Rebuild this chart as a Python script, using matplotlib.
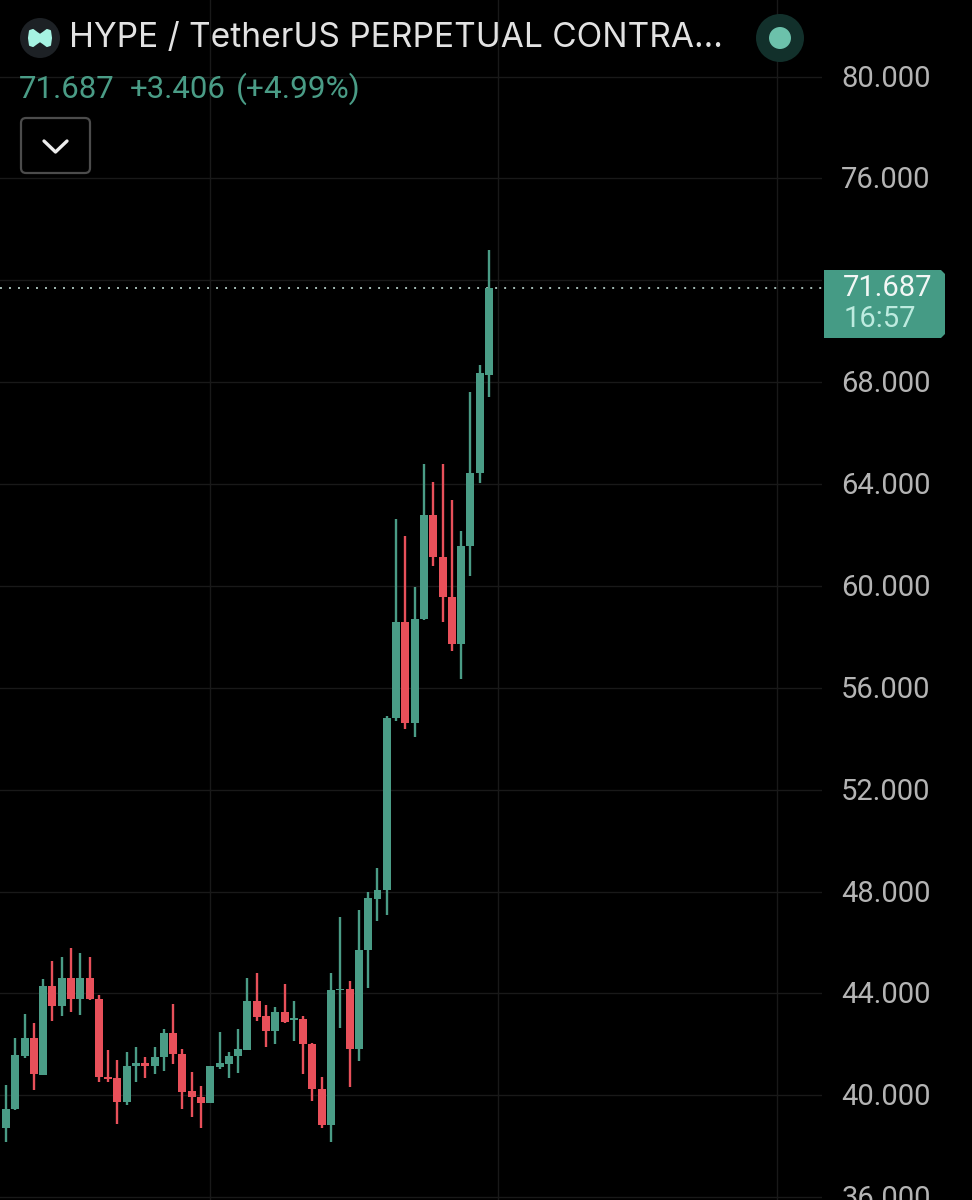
import numpy as np
import matplotlib
matplotlib.use('Agg')
import matplotlib.pyplot as plt
from matplotlib.patches import Circle, FancyBboxPatch, Polygon
from matplotlib.transforms import ScaledTranslation

plt.rcParams['font.family'] = ['Inter', 'DejaVu Sans']
NUM_FONT = ['Roboto', 'DejaVu Sans']

opens = [38.73, 39.45, 41.56, 42.24, 40.80, 44.29, 43.51, 44.61, 43.80, 44.61,
         43.78, 40.73, 40.67, 39.73, 41.15, 41.28, 41.15, 41.49, 42.45, 41.64,
         40.16, 39.92, 39.69, 41.11, 41.24, 41.53, 41.79, 43.69, 43.11, 42.53,
         43.26, 42.96, 43.00, 42.02, 40.25, 38.82, 44.12, 44.18, 41.80, 45.70,
         47.72, 48.05, 54.80, 58.59, 54.63, 58.70, 62.80, 61.15, 59.58, 57.73,
         61.55, 64.44, 68.281]
highs = [40.41, 42.24, 43.19, 42.83, 44.58, 45.27, 45.44, 45.77, 45.57, 45.42,
         43.94, 41.78, 41.39, 41.71, 41.88, 41.49, 41.88, 42.59, 43.59, 41.83,
         40.90, 40.37, 41.17, 42.47, 41.71, 42.62, 44.61, 44.82, 43.55, 43.48,
         44.36, 43.69, 43.13, 42.07, 40.71, 44.79, 47.01, 44.49, 47.27, 47.97,
         48.91, 54.89, 62.63, 61.95, 59.95, 64.78, 64.09, 64.78, 63.36, 62.16,
         67.61, 68.67, 73.19]
lows = [38.15, 39.42, 41.48, 40.21, 40.78, 42.93, 43.13, 43.28, 43.15, 43.74,
        40.54, 40.54, 38.87, 39.62, 40.52, 40.67, 40.84, 40.96, 41.23, 39.45,
        39.16, 38.73, 39.68, 41.02, 40.67, 40.89, 41.78, 42.92, 41.88, 42.03,
        42.83, 42.13, 40.84, 39.79, 38.70, 38.18, 42.64, 40.34, 41.36, 44.20,
        46.85, 47.08, 54.71, 54.37, 54.05, 58.67, 60.78, 58.59, 57.43, 56.33,
        60.39, 64.04, 67.41]
closes = [39.46, 41.58, 42.24, 40.82, 44.29, 43.51, 44.61, 43.80, 44.61, 43.77,
          40.71, 40.64, 39.75, 41.15, 41.28, 41.15, 41.49, 42.45, 41.62, 40.14,
          39.92, 39.69, 41.15, 41.27, 41.54, 41.82, 43.69, 43.09, 42.53, 43.26,
          42.89, 43.02, 42.00, 40.24, 38.82, 44.12, 44.18, 41.80, 45.70, 47.73,
          48.06, 54.82, 58.59, 54.63, 58.71, 62.80, 61.15, 59.58, 57.73, 61.55,
          64.44, 68.36, 71.687]

price_ticks = [36, 40, 44, 48, 52, 56, 60, 64, 68, 72, 76, 80]
price_labels = ['36.000', '40.000', '44.000', '48.000', '52.000', '56.000',
                '60.000', '64.000', '68.000', '', '76.000', '80.000']
month_lines = [22, 53, 83]

last_price = '71.687'
countdown = '16:57'
title = 'HYPE / TetherUS PERPETUAL CONTRA...'
change_abs = '+3.406'
change_pct = '(+4.99%)'

GREEN = '#4a9c86'
RED = '#e8505a'
GRID = '#191919'

W, H = 972, 1200
fig = plt.figure(figsize=(W / 100, H / 100), dpi=100, facecolor='black')

# price pane stops at 822px, the axis labels live right of it
ax = fig.add_axes([0, 0, 822 / W, 1])
ax.set_facecolor('black')
ax.set_xlim(-0.646, 87.86)
ax.set_ylim(35.89, 83.004)
for s in ax.spines.values():
    s.set_visible(False)

ax.set_xticks(month_lines)
ax.set_xticklabels([])
ax.set_yticks(price_ticks)
ax.set_yticklabels(price_labels, family=NUM_FONT)
ax.yaxis.tick_right()
ax.tick_params(axis='both', length=0)
ax.tick_params(axis='y', pad=13.8, labelsize=21, labelcolor='#b4b4b4')
ax.grid(True, color=GRID, lw=1.0)
ax.set_axisbelow(True)

# nudge the price labels up a pixel so they sit on their grid lines
nudge = ScaledTranslation(0, 1 / 100, fig.dpi_scale_trans)
for lab in ax.get_yticklabels():
    lab.set_transform(lab.get_transform() + nudge)

idx = np.arange(len(opens))
op = np.array(opens)
cl = np.array(closes)
colors = [GREEN if c >= o else RED for o, c in zip(op, cl)]

ax.vlines(idx, lows, highs, colors=colors, lw=1.7, zorder=3)
ax.bar(idx, np.abs(cl - op), bottom=np.minimum(op, cl), width=0.86,
       color=colors, linewidth=0, zorder=4)

# last price dotted line
ax.axhline(closes[-1], color='#a5bdb6', lw=1.4, ls=(0, (1, 3.63)), zorder=2)

# overlay in pixel coordinates for the header and the price badge
ui = fig.add_axes([0, 0, 1, 1])
ui.set_xlim(0, W)
ui.set_ylim(H, 0)
ui.axis('off')
ui.patch.set_alpha(0)

ui.add_patch(Circle((40, 38), 20, color='#1d2125', lw=0))
ui.add_patch(Polygon([(30, 31), (33, 30), (37, 33), (40, 35), (43, 33), (47, 30), (50, 31),
                      (51, 38), (50, 45), (47, 46), (43, 43), (40, 41), (37, 43),
                      (33, 46), (30, 45), (29, 38)],
                     closed=True, fc='#a6f3e2', ec='#a6f3e2', lw=1.5, joinstyle='round'))
ui.text(69, 38, title, color='#e2e2e2', fontsize=24.1, va='center', ha='left')

ui.text(19, 89, last_price, color=GREEN, fontsize=22.4, va='center', ha='left', family=NUM_FONT)
ui.text(130, 89, change_abs, color=GREEN, fontsize=22.4, va='center', ha='left', family=NUM_FONT)
ui.text(236, 89, change_pct, color=GREEN, fontsize=22.8, va='center', ha='left', family=NUM_FONT)

ui.add_patch(FancyBboxPatch((21, 118), 69, 55, boxstyle='round,pad=0,rounding_size=5',
                            fc='none', ec='#4c4c4c', lw=1.6, mutation_aspect=1))
ui.plot([44, 55.5, 67], [141, 152, 141], color='#ededed', lw=2.4, solid_capstyle='round',
        solid_joinstyle='round')

# market status dot
ui.add_patch(Circle((780, 38), 24, color='#12302b', lw=0))
ui.add_patch(Circle((780, 38), 11, color='#6cc1ab', lw=0))

# price badge, square on the axis side
ui.add_patch(Polygon([(824, 270), (941, 270), (945, 274), (945, 334), (941, 338), (824, 338)],
                     closed=True, color='#459b85', lw=0, zorder=5))
ui.text(843, 288, last_price, color='#f2f7f5', fontsize=21, va='center', ha='left', zorder=6,
        family=NUM_FONT)
ui.text(844, 319, countdown, color='#bdebdf', fontsize=21, va='center', ha='left', zorder=6,
        family=NUM_FONT)

fig.savefig('out.png', dpi=100, facecolor='black')
